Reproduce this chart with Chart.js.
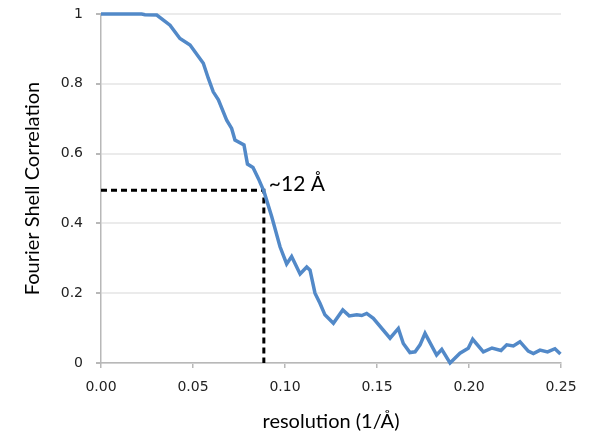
<!DOCTYPE html>
<html>
<head>
<meta charset="utf-8">
<script src="https://cdn.jsdelivr.net/npm/chart.js@4/dist/chart.umd.min.js"></script>
<style>
  html, body { margin: 0; padding: 0; background: #fff; }
  #wrap { width: 597px; height: 438px; position: relative; }
</style>
</head>
<body>
<div id="wrap"><canvas id="fsc"></canvas></div>
<script>
// FSC curve
var resolution = [0, 0.0221, 0.0239, 0.0303, 0.0375, 0.0429, 0.0484, 0.0556, 0.0583, 0.0610,
  0.0638, 0.0683, 0.0710, 0.0728, 0.0777, 0.0796, 0.0826, 0.0855, 0.0886, 0.0928,
  0.0973, 0.1009, 0.1036, 0.1082, 0.1118, 0.1136, 0.1163, 0.1190, 0.1217, 0.1263,
  0.1314, 0.1349, 0.1390, 0.1417, 0.1444, 0.1480, 0.1571, 0.1616, 0.1643, 0.1679,
  0.1707, 0.1734, 0.1761, 0.1824, 0.1852, 0.1897, 0.1951, 0.1996, 0.2020, 0.2078,
  0.2125, 0.2174, 0.2205, 0.2241, 0.2277, 0.2322, 0.2350, 0.2386, 0.2427, 0.2467, 0.2497];
var fsc = [1.0, 1.0, 0.998, 0.997, 0.968, 0.930, 0.911, 0.859, 0.816, 0.777,
  0.754, 0.696, 0.672, 0.639, 0.625, 0.570, 0.560, 0.529, 0.491, 0.419,
  0.333, 0.284, 0.305, 0.255, 0.275, 0.266, 0.200, 0.171, 0.138, 0.114,
  0.152, 0.135, 0.138, 0.136, 0.142, 0.128, 0.071, 0.099, 0.056, 0.030,
  0.032, 0.052, 0.085, 0.023, 0.039, 0.0, 0.028, 0.042, 0.068, 0.032,
  0.043, 0.036, 0.052, 0.049, 0.061, 0.034, 0.027, 0.037, 0.032, 0.041, 0.026];

// dashed cut-off marker
var cutX = [0, 0.0885, 0.0885];
var cutY = [0.495, 0.495, 0];
var cutLabel = '~12 Å';

var xTicks = [0, 0.05, 0.10, 0.15, 0.20, 0.25];
var yTicks = [0, 0.2, 0.4, 0.6, 0.8, 1];

function toPoints(xs, ys) {
  var pts = [];
  for (var i = 0; i < xs.length; i++) pts.push({ x: xs[i], y: ys[i] });
  return pts;
}

var cutLabelPlugin = {
  id: 'cutLabel',
  afterDatasetsDraw: function(chart) {
    var ctx = chart.ctx;
    var px = chart.scales.x.getPixelForValue(cutX[1]);
    var py = chart.scales.y.getPixelForValue(cutY[0]);
    ctx.save();
    ctx.fillStyle = '#000';
    ctx.font = '21px Lato';
    ctx.textAlign = 'left';
    ctx.textBaseline = 'alphabetic';
    ctx.fillText(cutLabel, px + 5, py + 1);
    ctx.restore();
  }
};

new Chart(document.getElementById('fsc'), {
  type: 'scatter',
  data: {
    datasets: [{
      data: toPoints(resolution, fsc),
      showLine: true,
      borderColor: '#5289C8',
      borderWidth: 3.5,
      pointRadius: 0,
      tension: 0,
      clip: false,
      order: 1
    }, {
      data: toPoints(cutX, cutY),
      showLine: true,
      borderColor: '#000',
      borderWidth: 3,
      borderDash: [6, 4],
      pointRadius: 0,
      clip: false,
      order: 2
    }]
  },
  options: {
    responsive: true,
    maintainAspectRatio: false,
    animation: false,
    layout: { padding: { top: 14, right: 36, bottom: 0, left: 0 } },
    plugins: { legend: { display: false }, tooltip: { enabled: false } },
    scales: {
      x: {
        type: 'linear',
        min: 0, max: 0.25,
        afterBuildTicks: function(s) { s.ticks = xTicks.map(function(v) { return { value: v }; }); },
        afterFit: function(s) { s.height = 75; },
        grid: { drawOnChartArea: false, tickLength: 5, tickColor: '#b8b8b8', lineWidth: 1.5 },
        border: { color: '#b8b8b8', width: 1.5 },
        ticks: {
          padding: 11,
          color: '#222',
          font: { family: 'DejaVu Sans', size: 14 },
          callback: function(v) { return v.toFixed(2); }
        },
        title: {
          display: true,
          text: 'resolution (1/Å)',
          color: '#000',
          font: { family: 'Lato', size: 20 },
          padding: { top: 0, bottom: 4 }
        }
      },
      y: {
        min: 0, max: 1,
        afterBuildTicks: function(s) { s.ticks = yTicks.map(function(v) { return { value: v }; }); },
        afterFit: function(s) { s.width = 101; s.paddingTop = 0; s.paddingBottom = 0; },
        grid: { color: '#ebebeb', lineWidth: 2, tickLength: 5, tickColor: '#b8b8b8' },
        border: { color: '#b8b8b8', width: 1.5 },
        ticks: {
          padding: 13,
          color: '#222',
          font: { family: 'DejaVu Sans', size: 14 },
          callback: function(v) { return (v === 0 || v === 1) ? String(v) : v.toFixed(1); }
        },
        title: {
          display: true,
          text: 'Fourier Shell Correlation',
          color: '#000',
          font: { family: 'Lato', size: 20 },
          padding: { top: 21, bottom: 0 }
        }
      }
    }
  },
  plugins: [cutLabelPlugin]
});
</script>
</body>
</html>
